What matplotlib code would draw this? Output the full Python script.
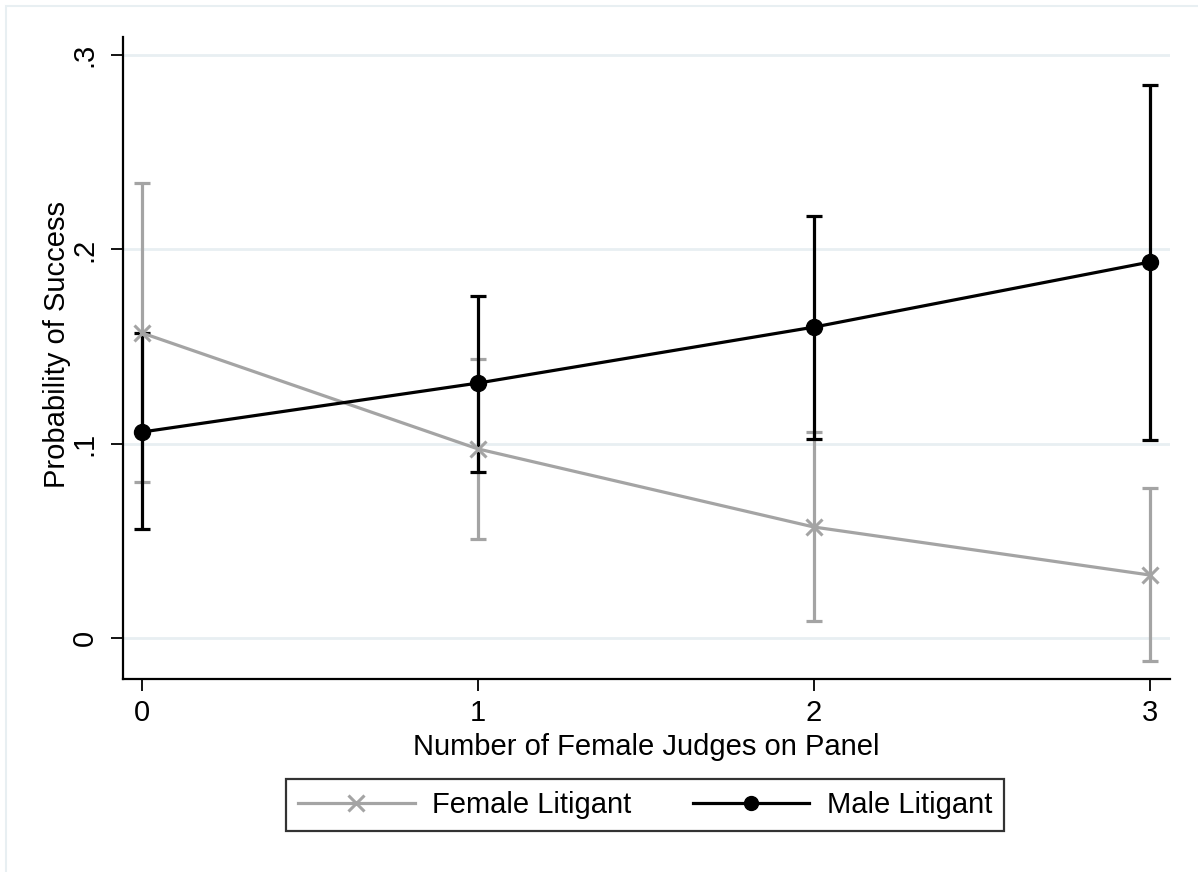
import matplotlib
matplotlib.use("Agg")
import matplotlib.pyplot as plt
from matplotlib.patches import Rectangle
from matplotlib.lines import Line2D

# Predicted probability of success by panel composition
judges = [0, 1, 2, 3]

female_est = [0.157, 0.0973, 0.0571, 0.0324]
female_lo = [0.0803, 0.0510, 0.0087, -0.0118]
female_hi = [0.2342, 0.1436, 0.1060, 0.0772]

male_est = [0.1060, 0.1312, 0.1600, 0.1935]
male_lo = [0.0561, 0.0854, 0.1024, 0.1019]
male_hi = [0.1570, 0.1760, 0.2172, 0.2846]

ytick_vals = [0, 0.1, 0.2, 0.3]
ytick_labels = ["0", ".1", ".2", ".3"]
xtick_vals = [0, 1, 2, 3]

plt.rcParams["font.family"] = ["Liberation Sans", "DejaVu Sans"]

GRAY = "#A4A4A4"
GRID = "#E8EFF2"
W, H = 1198, 872
FS = 21

fig = plt.figure(figsize=(W / 100, H / 100), dpi=100)
fig.patch.set_facecolor("white")

# thin outer frame around the graph region
fig.patches.append(Rectangle((5.5 / W, -0.05), 1.2, 1 - 5.5 / H + 0.05,
                             transform=fig.transFigure, fill=False,
                             edgecolor=GRID, linewidth=1.5, zorder=0))

ax = fig.add_axes([123 / W, 1 - 679 / H, (1170 - 123) / W, (679 - 37) / H])
ax.set_xlim(-0.0565, 3.0595)
ax.set_ylim(-0.0211, 0.3093)

for y in ytick_vals:
    ax.axhline(y, color=GRID, linewidth=2, zorder=0)


def ci(est, lo, hi):
    return [[e - l for e, l in zip(est, lo)], [h - e for e, h in zip(est, hi)]]


ax.errorbar(judges, female_est, yerr=ci(female_est, female_lo, female_hi),
            fmt="none", ecolor=GRAY, elinewidth=2.3, capsize=5.5, capthick=2.3, zorder=2)
ax.errorbar(judges, male_est, yerr=ci(male_est, male_lo, male_hi),
            fmt="none", ecolor="black", elinewidth=2.3, capsize=5.5, capthick=2.3, zorder=3)
ax.plot(judges, female_est, color=GRAY, linewidth=2.3, marker="x",
        markersize=12, markeredgewidth=2.2, zorder=4)
ax.plot(judges, male_est, color="black", linewidth=2.3, marker="o",
        markersize=11.5, zorder=5)

for side in ("top", "right"):
    ax.spines[side].set_visible(False)
for side in ("left", "bottom"):
    ax.spines[side].set_linewidth(1.6)

ax.set_yticks(ytick_vals)
ax.set_yticklabels(ytick_labels, rotation=90, va="center")
ax.set_xticks(xtick_vals)
ax.set_xticklabels([str(v) for v in xtick_vals])
ax.tick_params(axis="both", direction="out", length=8.6, width=1.3,
               labelsize=FS, pad=6)
ax.tick_params(axis="y", pad=9)

ax.set_xlabel("Number of Female Judges on Panel", fontsize=FS, labelpad=4)
ax.set_ylabel("Probability of Success", fontsize=FS, labelpad=8)
ax.yaxis.set_label_coords(-0.050, (679 - 344) / (679 - 37))

handles = [
    Line2D([], [], color=GRAY, linewidth=2.3, marker="x", markersize=12, markeredgewidth=2.2),
    Line2D([], [], color="black", linewidth=2.3, marker="o", markersize=10),
]
leg = fig.legend(handles, ["Female Litigant", "Male Litigant"], ncol=2,
                 loc="center", bbox_to_anchor=(645 / W, 1 - 805 / H),
                 fontsize=FS, frameon=True, fancybox=False, handlelength=4.0,
                 handletextpad=0.6, columnspacing=2.1, borderpad=0.4,
                 borderaxespad=0)
leg.get_frame().set_edgecolor("black")
leg.get_frame().set_linewidth(1.6)

fig.savefig("out.png", dpi=100, facecolor="white")
